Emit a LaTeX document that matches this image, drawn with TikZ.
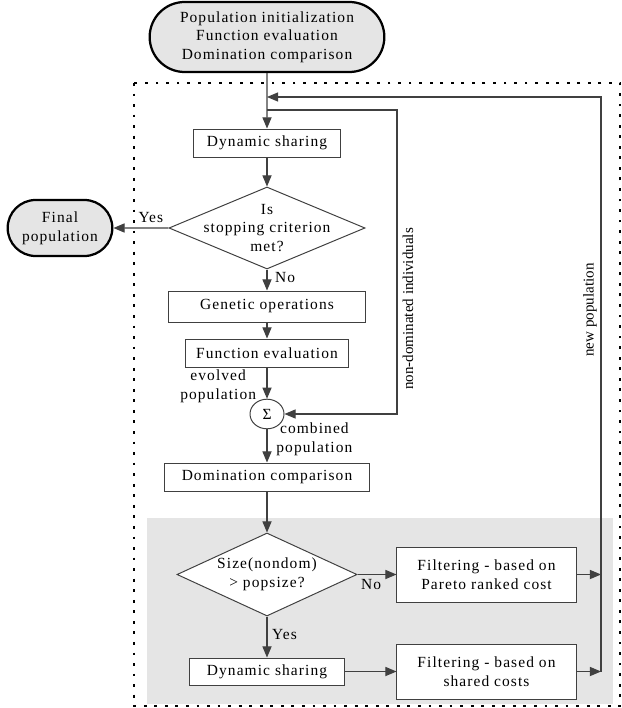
\documentclass[tikz,border=0pt]{standalone}
\usepackage{fontspec}
\setmainfont{Liberation Serif}[LetterSpace=7]
\newfontfamily\plainserif{Liberation Serif}
\usetikzlibrary{shapes.geometric,shapes.misc,arrows.meta}

\tikzset{
  box/.style={draw=black!75, line width=0.7pt, fill=white, minimum height=0.7cm, inner sep=2pt, align=center},
  term/.style={rounded rectangle, draw, line width=1.6pt, fill=gray!20, align=center},
  decision/.style={diamond, draw=black!75, line width=0.7pt, fill=white, inner sep=0pt},
  flow/.style={draw=black!75, line width=0.75pt, ->},
  sidelab/.style={font=\plainserif\fontsize{10.7}{12}\selectfont, rotate=90},
}

\begin{document}
\begin{tikzpicture}[x=0.025cm, y=-0.025cm, >={Triangle[length=2.8mm,width=2.3mm]}, font=\fontsize{11}{13.2}\selectfont]
\useasboundingbox (0,0) rectangle (621,708);
\fill[gray!20] (147,518) rectangle (613,704);
\draw[line width=1.5pt, dash pattern=on 2pt off 5.5pt] (134,83) rectangle (620,706);

\node[term, minimum width=6.1cm, minimum height=1.75cm] (start) at (267,37) {Population initialization\\Function evaluation\\Domination comparison};
\node[term, minimum width=2.85cm, minimum height=1.4cm] (final) at (60,228) {Final\\population};
\node[box, minimum width=3.675cm] (share) at (267,143) {Dynamic sharing};
\node[decision, minimum width=4.9cm, minimum height=2.05cm,
  label={[align=center]center:Is\\stopping criterion\\met?}] (stop) at (267,228) {};
\node[box, minimum width=4.9cm, minimum height=0.775cm] (genop) at (267,306.5) {Genetic operations};
\node[box, minimum width=4.075cm] (feval) at (267,353) {Function evaluation};
\node[ellipse, draw=black!75, line width=0.7pt, minimum width=0.85cm, minimum height=0.74cm, inner sep=0pt] (sum) at (267,414) {Σ};
\node[box, minimum width=5.1cm] (domcmp) at (267,477) {Domination comparison};
\node[decision, minimum width=4.5cm, minimum height=2.075cm,
  label={[align=center]center:Size(nondom)\\> popsize?}] (sizechk) at (267,574.5) {};
\node[box, minimum width=4.475cm, minimum height=1.375cm] (filtpareto) at (486.5,574.5) {Filtering - based on\\Pareto ranked cost};
\node[box, minimum width=3.875cm, minimum height=0.675cm] (share2) at (267,671.5) {Dynamic sharing};
\node[box, minimum width=4.475cm, minimum height=1.375cm] (filtshared) at (486.5,671.5) {Filtering - based on\\shared costs};

\node[sidelab] (ndlab) at (408,309) {non-dominated individuals};
\node[sidelab] (newlab) at (590,310) {new population};

% loop points
\coordinate (ret) at (267,97);
\coordinate (split) at (267,110);
\coordinate (ndcorner) at (397,110);
\coordinate (rx) at (601,97);

\draw[flow] (start) -- (share);
\draw[flow] (share) -- (stop);
\draw[flow] (stop.west) -- node[above, pos=0.32] {Yes} (final);
\draw[flow] (stop.south) -- node[right, pos=0.4, xshift=2pt] {No} (genop);
\draw[flow] (genop) -- (feval);
\draw[flow] (feval) -- node[left, align=center, pos=0.6, xshift=-4pt] {evolved\\population} (sum);
\draw[flow] (sum) -- node[right, align=center, pos=0.3, xshift=3pt] {combined\\population} (domcmp);
\draw[flow] (split) -- (ndcorner) |- (sum.east);
\draw[flow] (domcmp) -- (sizechk);
\draw[flow] (sizechk.east) -- node[below, pos=0.35] {No} (filtpareto);
\draw[flow] (sizechk.south) -- node[right, pos=0.43] {Yes} (share2);
\draw[flow] (share2) -- (filtshared);
\draw[flow] (filtpareto.east) -- (filtpareto.east -| rx);
\draw[flow] (filtshared.east) -- (filtshared.east -| rx);
\draw[flow] (filtshared.east -| rx) -- (rx) -- (ret);
\end{tikzpicture}
\end{document}
